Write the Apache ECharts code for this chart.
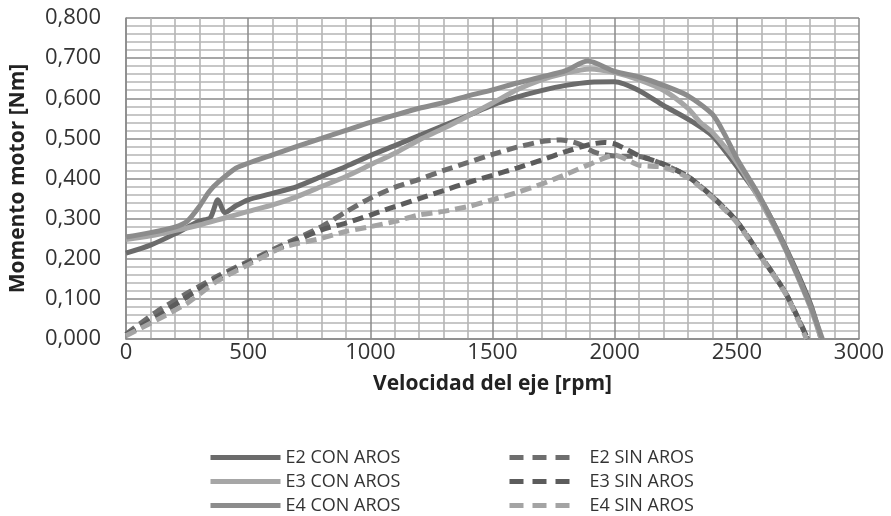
<!DOCTYPE html>
<html>
<head>
<meta charset="utf-8">
<script src="https://cdn.jsdelivr.net/npm/echarts@6/dist/echarts.min.js"></script>
<style>
  html, body { margin: 0; padding: 0; background: #fff; }
  #chart { width: 891px; height: 516px; }
</style>
</head>
<body>
<div id="chart"></div>
<script>
// valores (rpm / Nm)
const rpmE2Con = [0, 100, 200, 300, 345, 376, 405, 450, 500, 600, 700, 800, 900, 1000, 1100, 1200, 1300, 1400, 1500, 1600, 1700, 1800, 1900, 2000, 2100, 2200, 2300, 2400, 2500, 2600, 2700, 2800, 2845];
const e2Con = [0.214, 0.234, 0.262, 0.294, 0.302, 0.347, 0.315, 0.332, 0.347, 0.363, 0.38, 0.405, 0.43, 0.457, 0.482, 0.507, 0.532, 0.557, 0.583, 0.603, 0.619, 0.632, 0.640, 0.641, 0.619, 0.582, 0.548, 0.506, 0.43, 0.345, 0.228, 0.09, 0];

const rpmE3Con = [0, 100, 200, 300, 400, 500, 600, 700, 800, 900, 1000, 1100, 1200, 1300, 1400, 1500, 1600, 1700, 1800, 1900, 2000, 2100, 2200, 2300, 2350, 2400, 2500, 2600, 2700, 2800, 2845];
const e3Con = [0.248, 0.257, 0.27, 0.284, 0.301, 0.318, 0.334, 0.355, 0.38, 0.405, 0.434, 0.463, 0.496, 0.525, 0.556, 0.588, 0.621, 0.646, 0.663, 0.673, 0.664, 0.646, 0.62, 0.575, 0.54, 0.515, 0.44, 0.34, 0.222, 0.08, 0];

const rpmE4Con = [0, 100, 200, 250, 300, 340, 380, 450, 500, 600, 700, 800, 900, 1000, 1100, 1200, 1300, 1400, 1500, 1600, 1700, 1800, 1890, 2000, 2100, 2200, 2300, 2400, 2450, 2500, 2600, 2700, 2800, 2850];
const e4Con = [0.254, 0.265, 0.279, 0.293, 0.33, 0.367, 0.392, 0.426, 0.438, 0.459, 0.48, 0.50, 0.52, 0.54, 0.558, 0.575, 0.589, 0.606, 0.621, 0.638, 0.653, 0.669, 0.693, 0.667, 0.653, 0.632, 0.606, 0.56, 0.51, 0.45, 0.348, 0.225, 0.085, 0];

const rpmE2Sin = [0, 125, 250, 370, 500, 640, 800, 900, 1000, 1100, 1200, 1300, 1400, 1500, 1600, 1700, 1780, 1850, 1920, 2000, 2100, 2200, 2300, 2400, 2500, 2600, 2700, 2790];
const e2Sin = [0.012, 0.068, 0.114, 0.155, 0.193, 0.234, 0.28, 0.317, 0.351, 0.378, 0.398, 0.42, 0.44, 0.46, 0.478, 0.492, 0.496, 0.487, 0.465, 0.456, 0.455, 0.435, 0.405, 0.355, 0.293, 0.205, 0.114, 0];

const rpmE3Sin = [0, 125, 250, 370, 500, 640, 800, 900, 1000, 1100, 1200, 1300, 1400, 1500, 1600, 1700, 1800, 1900, 1960, 2000, 2050, 2100, 2200, 2300, 2400, 2500, 2600, 2700, 2790];
const e3Sin = [0.01, 0.055, 0.105, 0.15, 0.19, 0.23, 0.272, 0.289, 0.309, 0.33, 0.35, 0.37, 0.39, 0.408, 0.426, 0.446, 0.467, 0.485, 0.49, 0.486, 0.472, 0.457, 0.436, 0.405, 0.355, 0.293, 0.205, 0.114, 0];

const rpmE4Sin = [0, 125, 250, 370, 500, 640, 800, 900, 1000, 1100, 1200, 1300, 1400, 1500, 1600, 1700, 1800, 1900, 2000, 2050, 2100, 2200, 2300, 2400, 2500, 2600, 2700, 2785];
const e4Sin = [0.008, 0.047, 0.089, 0.143, 0.185, 0.228, 0.251, 0.268, 0.28, 0.293, 0.309, 0.318, 0.33, 0.347, 0.365, 0.386, 0.41, 0.436, 0.458, 0.447, 0.433, 0.428, 0.402, 0.352, 0.29, 0.203, 0.112, 0];

const xTicks = [0, 500, 1000, 1500, 2000, 2500, 3000];
const yTicks = [0, 0.1, 0.2, 0.3, 0.4, 0.5, 0.6, 0.7, 0.8];

const font = '"Open Sans", sans-serif';

function pairs(xs, ys) {
  return xs.map((x, i) => [x, ys[i]]);
}

function linea(name, xs, ys, color, dashed) {
  return {
    name: name,
    type: 'line',
    smooth: 0.25,
    symbol: 'none',
    data: pairs(xs, ys),
    lineStyle: {
      width: 5,
      color: color,
      type: dashed ? [11, 6] : 'solid',
      cap: 'butt'
    },
    itemStyle: { color: color }
  };
}

function leyenda(left, names, extra) {
  return Object.assign({
    orient: 'vertical',
    left: left,
    top: 448,
    padding: 0,
    height: 120,
    itemWidth: 70,
    itemHeight: 14,
    itemGap: 5,
    itemStyle: { opacity: 0 },
    lineStyle: { width: 5 },
    textStyle: { fontFamily: font, fontSize: 18, lineHeight: 19, color: '#333' },
    data: names
  }, extra || {});
}

const myChart = echarts.init(document.getElementById('chart'), null, { renderer: 'canvas' });

const option = {
  animation: false,
  backgroundColor: '#ffffff',
  grid: { left: 126, right: 32, top: 18, bottom: 177 },
  legend: [
    leyenda(208, ['E2 CON AROS', 'E3 CON AROS', 'E4 CON AROS']),
    leyenda(507, ['E2 SIN AROS', 'E3 SIN AROS', 'E4 SIN AROS'], {
      itemWidth: 62,
      lineStyle: { width: 5, type: [14, 9] },
      textStyle: { fontFamily: font, fontSize: 18, lineHeight: 19, color: '#333', padding: [0, 0, 0, 13] }
    })
  ],
  xAxis: {
    type: 'value',
    min: xTicks[0],
    max: xTicks[xTicks.length - 1],
    interval: 500,
    name: 'Velocidad del eje [rpm]',
    nameLocation: 'middle',
    nameGap: 35,
    nameTextStyle: { fontFamily: font, fontSize: 21, fontWeight: 'bold', color: '#222' },
    axisLine: { show: true, lineStyle: { color: '#8a8a8a', width: 1.5 } },
    axisTick: { show: false },
    axisLabel: { fontFamily: font, fontSize: 22, color: '#333', margin: 3, formatter: v => String(v) },
    splitLine: { show: true, lineStyle: { color: '#8a8a8a', width: 1.5 } },
    minorTick: { show: false, splitNumber: 5 },
    minorSplitLine: { show: true, lineStyle: { color: '#b5b5b5', width: 1.6 } }
  },
  yAxis: {
    type: 'value',
    min: yTicks[0],
    max: yTicks[yTicks.length - 1],
    interval: 0.1,
    name: 'Momento motor [Nm]',
    nameLocation: 'middle',
    nameGap: 97,
    nameTextStyle: { fontFamily: font, fontSize: 21, fontWeight: 'bold', color: '#222' },
    axisLine: { show: true, lineStyle: { color: '#8a8a8a', width: 1.5 } },
    axisTick: { show: false },
    axisLabel: {
      fontFamily: font, fontSize: 22, color: '#333', margin: 25,
      formatter: v => v.toFixed(3).replace('.', ',')
    },
    splitLine: { show: true, lineStyle: { color: '#8a8a8a', width: 1.5 } },
    minorTick: { show: false, splitNumber: 5 },
    minorSplitLine: { show: true, lineStyle: { color: '#b5b5b5', width: 1.6 } }
  },
  series: [
    linea('E2 CON AROS', rpmE2Con, e2Con, '#6b6b6b', false),
    linea('E3 CON AROS', rpmE3Con, e3Con, '#a6a6a6', false),
    linea('E4 CON AROS', rpmE4Con, e4Con, '#8c8c8c', false),
    linea('E2 SIN AROS', rpmE2Sin, e2Sin, '#6e6e6e', true),
    linea('E3 SIN AROS', rpmE3Sin, e3Sin, '#5c5c5c', true),
    linea('E4 SIN AROS', rpmE4Sin, e4Sin, '#a4a4a4', true)
  ]
};

myChart.setOption(option);

window.addEventListener('resize', function () {
  myChart.resize();
});
</script>
</body>
</html>
